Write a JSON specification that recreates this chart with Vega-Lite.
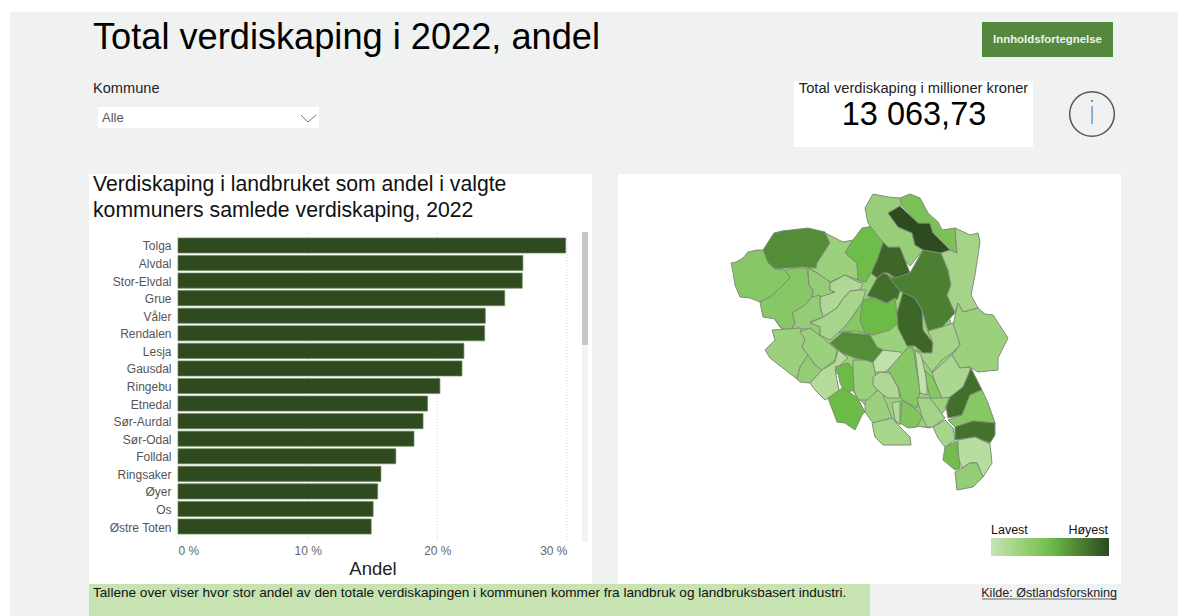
{"$schema":"https://vega.github.io/schema/vega-lite/v6.json","width":1188,"height":616,"autosize":{"type":"none"},"padding":0,"background":"#ffffff","config":{"view":{"stroke":null},"font":"Liberation Sans","text":{"font":"Liberation Sans"}},
"datasets":{"one":[{}],"bars":[{"k":"Tolga","v":29.9},{"k":"Alvdal","v":26.6},{"k":"Stor-Elvdal","v":26.55},{"k":"Grue","v":25.2},{"k":"Våler","v":23.7},{"k":"Rendalen","v":23.65},{"k":"Lesja","v":22.05},{"k":"Gausdal","v":21.9},{"k":"Ringebu","v":20.2},{"k":"Etnedal","v":19.25},{"k":"Sør-Aurdal","v":18.9},{"k":"Sør-Odal","v":18.2},{"k":"Folldal","v":16.8},{"k":"Ringsaker","v":15.65},{"k":"Øyer","v":15.4},{"k":"Os","v":15.05},{"k":"Østre Toten","v":14.9}],"ticks":[{"v":0},{"v":10},{"v":20},{"v":30}]},
"layer":[
{"data":{"name":"one"},"mark":{"type":"rect","x":10,"x2":1178,"y":12,"y2":616,"fill":"#f0f2f2"}},
{"data":{"name":"one"},"mark":{"type":"rect","x":89,"x2":592,"y":174,"y2":584,"fill":"#ffffff"}},
{"data":{"name":"one"},"mark":{"type":"rect","x":618,"x2":1121,"y":174,"y2":584,"fill":"#ffffff"}},
{"data":{"name":"one"},"mark":{"type":"rect","x":794,"x2":1033,"y":81,"y2":147,"fill":"#ffffff"}},
{"data":{"name":"one"},"mark":{"type":"rect","x":982,"x2":1113,"y":22,"y2":57,"fill":"#55883f"}},
{"data":{"name":"one"},"mark":{"type":"rect","x":98,"x2":319,"y":107,"y2":128,"fill":"#ffffff"}},
{"data":{"name":"one"},"mark":{"type":"rect","x":89,"x2":870,"y":584,"y2":616,"fill":"#c6e3b1"}},
{"data":{"name":"one"},"mark":{"type":"rect","x":582,"x2":588,"y":232,"y2":542,"fill":"#f3f3f3"}},
{"data":{"name":"one"},"mark":{"type":"rect","x":582,"x2":588,"y":232,"y2":345,"fill":"#c8c8c8"}},
{"data":{"name":"one"},"mark":{"type":"rule","stroke":"#777777","strokeWidth":1},"encoding":{"x":{"value":301},"y":{"value":115},"x2":{"value":308},"y2":{"value":122}}},
{"data":{"name":"one"},"mark":{"type":"rule","stroke":"#777777","strokeWidth":1},"encoding":{"x":{"value":308},"y":{"value":122},"x2":{"value":316},"y2":{"value":115}}},
{"data":{"name":"one"},"mark":{"type":"rule","stroke":"#666666","strokeWidth":1},"encoding":{"x":{"value":982},"y":{"value":599},"x2":{"value":1117},"y2":{"value":599}}},
{"data":{"name":"one"},"mark":{"type":"point","x":1092,"y":114,"size":1994,"filled":false,"stroke":"#555555","strokeWidth":1.5,"opacity":1}},
{"data":{"name":"one"},"mark":{"type":"text","x":93,"y":38,"text":"Total verdiskaping i 2022, andel","fontSize":36.2,"align":"left","baseline":"middle","fill":"#000000"}},
{"data":{"name":"one"},"mark":{"type":"text","x":93,"y":89,"text":"Kommune","fontSize":14.6,"align":"left","baseline":"middle","fill":"#222222"}},
{"data":{"name":"one"},"mark":{"type":"text","x":102,"y":118,"text":"Alle","fontSize":13,"align":"left","baseline":"middle","fill":"#555555"}},
{"data":{"name":"one"},"mark":{"type":"text","x":913.5,"y":89,"text":"Total verdiskaping i millioner kroner","fontSize":14.7,"align":"center","baseline":"middle","fill":"#222222"}},
{"data":{"name":"one"},"mark":{"type":"text","x":914,"y":115,"text":"13 063,73","fontSize":32.5,"align":"center","baseline":"middle","fill":"#000000"}},
{"data":{"name":"one"},"mark":{"type":"text","x":1047.5,"y":40,"text":"Innholdsfortegnelse","fontSize":11.4,"fontWeight":"bold","align":"center","baseline":"middle","fill":"#eef3ea"}},
{"data":{"name":"one"},"mark":{"type":"text","x":1092,"y":114,"text":"i","fontSize":34,"font":"Roboto","fontWeight":100,"align":"center","baseline":"middle","fill":"#555555"}},
{"data":{"name":"one"},"mark":{"type":"text","x":93,"y":185,"text":"Verdiskaping i landbruket som andel i valgte","fontSize":21.2,"align":"left","baseline":"middle","fill":"#111111"}},
{"data":{"name":"one"},"mark":{"type":"text","x":93,"y":211,"text":"kommuners samlede verdiskaping, 2022","fontSize":21.2,"align":"left","baseline":"middle","fill":"#111111"}},
{"data":{"name":"one"},"mark":{"type":"text","x":93,"y":593,"text":"Tallene over viser hvor stor andel av den totale verdiskapingen i kommunen kommer fra landbruk og landbruksbasert industri.","fontSize":13.6,"align":"left","baseline":"middle","fill":"#111111"}},
{"data":{"name":"one"},"mark":{"type":"text","x":1117,"y":593,"text":"Kilde: Østlandsforskning","fontSize":12.6,"align":"right","baseline":"middle","fill":"#222222"}},
{"data":{"name":"one"},"mark":{"type":"text","x":991,"y":530,"text":"Lavest","fontSize":12.5,"align":"left","baseline":"middle","fill":"#111111"}},
{"data":{"name":"one"},"mark":{"type":"text","x":1108,"y":530,"text":"Høyest","fontSize":12.5,"align":"right","baseline":"middle","fill":"#111111"}},
{"data":{"name":"ticks"},"mark":{"type":"rule","y":233,"y2":541,"stroke":"#d8d8d8","strokeDash":[1,2],"strokeWidth":1},"encoding":{"x":{"field":"v","type":"quantitative"}}},
{"data":{"name":"bars"},"mark":{"type":"bar","fill":"#2f4a1f","stroke":"#6d8a5c","strokeWidth":0.7},"encoding":{
"x":{"field":"v","type":"quantitative","stack":null,"scale":{"domain":[0,30],"range":[178,567],"nice":false},"axis":{"orient":"bottom","offset":-75,"zindex":1,"values":[0,10,20,30],"labelExpr":"datum.value + ' %'","grid":false,"domain":false,"ticks":false,"labelColor":"#666666","labelFontSize":12,"labelPadding":4,"labelFont":"Liberation Sans","title":"Andel","titleColor":"#222222","titleFontSize":18.5,"titleFontWeight":"normal","titleFont":"Liberation Sans","titlePadding":3}},
"y":{"field":"k","type":"nominal","sort":null,"scale":{"range":[236.7,535.3],"paddingInner":0.14,"paddingOuter":0.07},"axis":{"orient":"left","offset":-178,"zindex":1,"grid":false,"domain":false,"ticks":false,"title":null,"labelColor":"#555555","labelFontSize":12,"labelPadding":7,"labelOffset":1,"labelFont":"Liberation Sans"}}}},
{"data":{"values":[
{"type":"Feature","properties":{"v":10},"geometry":{"type":"Polygon","coordinates":[[[790,275],[820,268],[860,235],[880,235],[905,280],[950,320],[960,360],[945,410],[930,428],[910,425],[880,420],[860,400],[840,375],[820,365],[790,340],[775,320],[790,275]]]}},
{"type":"Feature","properties":{"name":"Lesja","v":22},"geometry":{"type":"Polygon","coordinates":[[[763,250],[774,233],[782,231],[808,228],[825,232],[830,243],[817,263],[816,268],[802,267],[775,269],[768,263],[763,250]]]}},
{"type":"Feature","properties":{"v":13},"geometry":{"type":"Polygon","coordinates":[[[731,263],[736,262],[743,258],[748,252],[757,250],[763,250],[768,263],[775,269],[785,270],[790,278],[778,290],[770,297],[760,302],[750,298],[740,297],[735,285],[733,272],[731,263]]]}},
{"type":"Feature","properties":{"v":13},"geometry":{"type":"Polygon","coordinates":[[[760,302],[770,297],[778,290],[790,278],[785,270],[793,268],[807,268],[809,285],[813,290],[812,297],[805,305],[792,313],[795,323],[790,332],[780,327],[775,319],[763,317],[760,302]]]}},
{"type":"Feature","properties":{"v":10},"geometry":{"type":"Polygon","coordinates":[[[825,233],[843,242],[853,240],[845,253],[857,263],[858,280],[845,275],[830,282],[817,273],[808,268],[816,268],[817,263],[830,243],[825,233]]]}},
{"type":"Feature","properties":{"v":11},"geometry":{"type":"Polygon","coordinates":[[[808,268],[817,273],[830,282],[830,290],[835,292],[820,298],[812,297],[813,290],[809,285],[808,268]]]}},
{"type":"Feature","properties":{"v":7},"geometry":{"type":"Polygon","coordinates":[[[830,283],[845,275],[858,282],[863,283],[860,290],[850,291],[842,300],[837,308],[823,317],[820,307],[820,297],[835,292],[830,290],[830,283]]]}},
{"type":"Feature","properties":{"v":11},"geometry":{"type":"Polygon","coordinates":[[[790,332],[795,323],[792,313],[805,305],[812,297],[820,295],[820,307],[823,317],[810,322],[820,327],[820,335],[805,328],[790,332]]]}},
{"type":"Feature","properties":{"v":8},"geometry":{"type":"Polygon","coordinates":[[[820,335],[820,327],[810,323],[823,317],[837,308],[842,300],[850,291],[860,290],[866,290],[862,303],[848,323],[838,333],[830,340],[820,335]]]}},
{"type":"Feature","properties":{"v":13},"geometry":{"type":"Polygon","coordinates":[[[838,333],[848,323],[862,303],[863,300],[860,320],[865,333],[855,331],[843,332],[838,333]]]}},
{"type":"Feature","properties":{"name":"Ringebu","v":17},"geometry":{"type":"Polygon","coordinates":[[[863,300],[870,298],[887,303],[895,298],[898,323],[890,330],[873,335],[865,333],[860,320],[863,300]]]}},
{"type":"Feature","properties":{"name":"Gausdal","v":22},"geometry":{"type":"Polygon","coordinates":[[[830,343],[843,332],[870,335],[877,347],[883,350],[873,362],[855,358],[842,353],[830,343]]]}},
{"type":"Feature","properties":{"v":10},"geometry":{"type":"Polygon","coordinates":[[[772,330],[800,328],[805,340],[802,347],[808,355],[800,367],[797,379],[788,372],[770,358],[765,350],[775,340],[772,330]]]}},
{"type":"Feature","properties":{"v":10},"geometry":{"type":"Polygon","coordinates":[[[800,332],[810,328],[823,338],[837,350],[835,360],[822,370],[815,365],[808,355],[802,347],[805,340],[800,332]]]}},
{"type":"Feature","properties":{"v":11},"geometry":{"type":"Polygon","coordinates":[[[808,355],[815,365],[822,370],[810,383],[800,382],[797,379],[800,367],[808,355]]]}},
{"type":"Feature","properties":{"v":6},"geometry":{"type":"Polygon","coordinates":[[[810,383],[822,370],[835,362],[838,350],[848,358],[840,365],[835,370],[838,385],[840,395],[830,397],[825,400],[815,390],[810,383]]]}},
{"type":"Feature","properties":{"v":17},"geometry":{"type":"Polygon","coordinates":[[[835,367],[848,363],[853,368],[854,390],[845,393],[840,383],[838,373],[835,367]]]}},
{"type":"Feature","properties":{"v":10},"geometry":{"type":"Polygon","coordinates":[[[853,360],[866,360],[873,363],[875,370],[877,390],[870,400],[858,400],[854,390],[853,368],[853,360]]]}},
{"type":"Feature","properties":{"v":4},"geometry":{"type":"Polygon","coordinates":[[[873,362],[883,350],[900,352],[903,354],[890,368],[885,372],[875,372],[873,362]]]}},
{"type":"Feature","properties":{"v":7},"geometry":{"type":"Polygon","coordinates":[[[873,377],[880,372],[890,373],[898,387],[900,398],[888,398],[880,393],[873,385],[873,377]]]}},
{"type":"Feature","properties":{"v":13},"geometry":{"type":"Polygon","coordinates":[[[888,370],[908,347],[913,348],[920,390],[917,408],[902,400],[898,387],[890,373],[888,370]]]}},
{"type":"Feature","properties":{"name":"Stor-Elvdal","v":26.55},"geometry":{"type":"Polygon","coordinates":[[[903,292],[915,298],[922,310],[923,330],[933,343],[932,353],[923,353],[915,346],[907,346],[898,328],[897,313],[903,292]]]}},
{"type":"Feature","properties":{"name":"Rendalen","v":23.65},"geometry":{"type":"Polygon","coordinates":[[[888,275],[893,278],[910,273],[923,250],[941,253],[948,270],[951,285],[947,295],[955,313],[942,327],[928,331],[922,310],[915,298],[900,291],[893,283],[888,275]]]}},
{"type":"Feature","properties":{"name":"Alvdal","v":26.6},"geometry":{"type":"Polygon","coordinates":[[[883,242],[888,247],[900,247],[905,260],[910,273],[895,278],[888,273],[883,273],[877,278],[871,273],[877,260],[883,242]]]}},
{"type":"Feature","properties":{"v":25.5},"geometry":{"type":"Polygon","coordinates":[[[867,296],[877,278],[883,273],[888,275],[893,283],[900,291],[897,300],[895,298],[887,303],[875,298],[867,296]]]}},
{"type":"Feature","properties":{"name":"Folldal","v":16.8},"geometry":{"type":"Polygon","coordinates":[[[845,253],[853,240],[862,228],[868,227],[875,223],[883,242],[877,260],[871,273],[866,282],[858,280],[857,263],[845,253]]]}},
{"type":"Feature","properties":{"v":10.5},"geometry":{"type":"Polygon","coordinates":[[[865,208],[873,194],[888,197],[900,198],[902,205],[888,213],[898,227],[912,233],[915,245],[923,250],[910,266],[905,260],[900,247],[888,247],[883,242],[877,235],[868,223],[865,208]]]}},
{"type":"Feature","properties":{"name":"Tolga","v":29.9},"geometry":{"type":"Polygon","coordinates":[[[888,213],[900,206],[918,223],[930,223],[933,233],[950,250],[941,253],[923,250],[915,245],[912,233],[898,227],[888,213]]]}},
{"type":"Feature","properties":{"name":"Os","v":15},"geometry":{"type":"Polygon","coordinates":[[[900,198],[910,194],[920,198],[928,213],[938,222],[942,230],[955,228],[957,253],[950,250],[933,233],[930,223],[918,223],[902,206],[900,198]]]}},
{"type":"Feature","properties":{"v":8.5},"geometry":{"type":"Polygon","coordinates":[[[955,228],[970,235],[978,233],[980,242],[975,275],[971,295],[978,308],[963,312],[958,303],[955,313],[947,295],[951,285],[948,270],[941,253],[950,250],[957,253],[955,228]]]}},
{"type":"Feature","properties":{"v":10},"geometry":{"type":"Polygon","coordinates":[[[963,312],[978,308],[985,314],[993,315],[1008,338],[998,358],[998,370],[978,372],[970,367],[960,368],[952,355],[960,345],[953,325],[958,303],[963,312]]]}},
{"type":"Feature","properties":{"v":8.5},"geometry":{"type":"Polygon","coordinates":[[[928,331],[942,327],[953,323],[960,345],[952,353],[942,360],[932,372],[915,350],[923,353],[932,353],[933,343],[928,331]]]}},
{"type":"Feature","properties":{"v":7.5},"geometry":{"type":"Polygon","coordinates":[[[932,373],[952,355],[960,368],[970,367],[970,375],[963,387],[953,397],[942,398],[937,387],[932,373]]]}},
{"type":"Feature","properties":{"name":"Våler","v":25.5},"geometry":{"type":"Polygon","coordinates":[[[946,407],[950,397],[963,387],[971,368],[976,378],[982,390],[970,395],[962,415],[948,418],[946,407]]]}},
{"type":"Feature","properties":{"v":13},"geometry":{"type":"Polygon","coordinates":[[[948,420],[962,415],[970,395],[982,390],[988,403],[995,423],[973,421],[955,427],[948,420]]]}},
{"type":"Feature","properties":{"name":"Grue","v":25.2},"geometry":{"type":"Polygon","coordinates":[[[955,427],[973,421],[995,423],[995,435],[990,443],[975,437],[955,440],[955,427]]]}},
{"type":"Feature","properties":{"v":5.5},"geometry":{"type":"Polygon","coordinates":[[[958,440],[975,437],[990,444],[992,463],[983,477],[977,463],[970,463],[962,468],[958,457],[958,440]]]}},
{"type":"Feature","properties":{"name":"Sør-Odal","v":16.5},"geometry":{"type":"Polygon","coordinates":[[[945,447],[957,441],[960,468],[955,470],[943,460],[945,447]]]}},
{"type":"Feature","properties":{"v":11},"geometry":{"type":"Polygon","coordinates":[[[955,472],[962,468],[970,463],[977,463],[983,477],[973,487],[957,490],[955,472]]]}},
{"type":"Feature","properties":{"v":8},"geometry":{"type":"Polygon","coordinates":[[[933,427],[945,420],[953,428],[955,440],[945,447],[938,438],[933,427]]]}},
{"type":"Feature","properties":{"v":8.5},"geometry":{"type":"Polygon","coordinates":[[[917,398],[930,398],[945,418],[933,427],[927,427],[922,417],[917,398]]]}},
{"type":"Feature","properties":{"name":"Etnedal","v":17},"geometry":{"type":"Polygon","coordinates":[[[828,398],[842,388],[857,397],[865,412],[862,415],[855,430],[845,423],[837,422],[828,398]]]}},
{"type":"Feature","properties":{"v":10},"geometry":{"type":"Polygon","coordinates":[[[865,402],[878,390],[883,395],[892,418],[873,423],[865,412],[865,402]]]}},
{"type":"Feature","properties":{"v":8},"geometry":{"type":"Polygon","coordinates":[[[872,423],[892,418],[900,427],[910,437],[911,445],[883,445],[875,437],[872,423]]]}},
{"type":"Feature","properties":{"v":6},"geometry":{"type":"Polygon","coordinates":[[[892,403],[900,401],[900,425],[895,420],[892,403]]]}},
{"type":"Feature","properties":{"v":14},"geometry":{"type":"Polygon","coordinates":[[[902,400],[917,410],[922,417],[917,427],[908,428],[900,423],[902,400]]]}},
{"type":"Feature","properties":{"v":4},"geometry":{"type":"Polygon","coordinates":[[[915,350],[921,355],[927,380],[927,395],[920,393],[915,350]]]}},
{"type":"Feature","properties":{"v":13},"geometry":{"type":"Polygon","coordinates":[[[925,370],[933,378],[942,398],[930,398],[927,385],[925,370]]]}}
]},
"projection":{"type":"identity","scale":1,"translate":[0,0]},
"mark":{"type":"geoshape","stroke":"#7f8c78","strokeWidth":1},
"encoding":{"color":{"field":"properties.v","type":"quantitative","scale":{"domain":[3,17,30],"range":["#c6e4b2","#6dbb47","#2d4a1e"]},"legend":{"orient":"none","legendX":991,"legendY":538,"direction":"horizontal","gradientLength":118,"gradientThickness":18,"labelOpacity":0,"labelFontSize":1,"tickCount":2,"title":null}}}}
]}
